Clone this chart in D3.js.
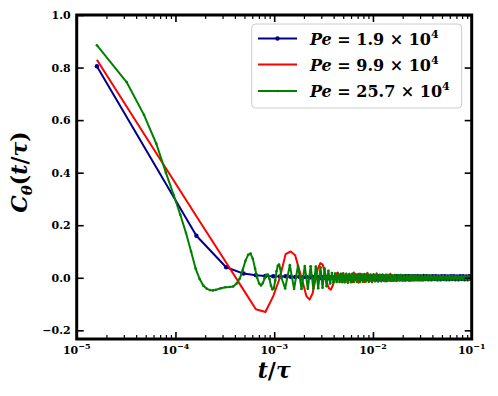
<!DOCTYPE html>
<html>
<head>
<meta charset="utf-8">
<script src="https://cdn.jsdelivr.net/npm/d3@7"></script>
<style>
  body { margin: 0; background: #fff; }
  svg text { font-family: "DejaVu Serif", "Liberation Serif", serif; font-weight: bold; }
</style>
</head>
<body>
<div id="chart"></div>
<script>
// times are in units of 1e-3 (t/tau * 1000)
// coarse sampling shared by the Pe = 1.9e4 and Pe = 9.9e4 runs
var sampleT = [0.016,0.163,0.326,0.489,0.652,0.815,0.978,1.141,1.304,1.467,1.630,
    1.793,1.956,2.119,2.282,2.445,2.608,2.771,2.934,3.097,3.260,
    3.423,3.586,3.749,3.912,4.075,4.238,4.401,4.564,4.727,4.890];
var blueV = [0.805,0.16,0.04,0.016,0.01,0.007,0.006,0.005,0.006,0.004,0.003,
    0.004,0.002,0.003,0.001,0.003,0.0,0.002,-0.001,0.002,0.0,
    0.003,-0.002,0.001,0.002,-0.003,0.002,0.0,-0.002,0.003,-0.001];
var redV = [0.83,0.234,0.058,-0.046,-0.12,-0.13,-0.07,0.0,0.09,0.1,0.086,
    0.03,-0.02,-0.07,-0.083,-0.06,-0.01,0.035,0.056,0.05,0.02,
    -0.02,-0.04,-0.045,-0.03,-0.005,0.015,0.02,0.01,-0.01,-0.018];

// fine sampling of the Pe = 25.7e4 run
var greenT = [0.016,0.032,0.048,0.064,0.080,0.096,0.112,0.128,0.144,0.160,0.176,0.192,0.208,0.224,0.240,0.256,
    0.288,0.320,0.352,0.384,0.416,0.448,0.480,0.512,0.544,0.576,0.608,0.640,0.672,0.704,0.736,0.768,
    0.800,0.832,0.864,0.896,0.928,0.960,0.992,1.024,1.056,1.088,1.120,1.152,1.184,
    1.29,1.44,1.59,1.74,1.89,2.04,2.19,2.34,2.49,2.64,2.79,2.94,3.09,3.24,3.39,3.54,3.69,3.84,3.99,
    4.14,4.29,4.44,4.59,4.74,4.89];
var greenV = [0.885,0.745,0.62,0.51,0.40,0.315,0.24,0.17,0.10,0.035,-0.005,-0.03,-0.042,-0.047,-0.048,-0.046,
    -0.04,-0.036,-0.035,-0.033,-0.022,-0.003,0.03,0.065,0.087,0.092,0.072,0.035,0.0,-0.022,-0.029,-0.02,
    -0.002,0.011,0.012,-0.005,-0.03,-0.044,-0.04,-0.01,0.025,0.046,0.05,0.035,0.0,
    -0.041,0.048,-0.043,0.046,-0.043,0.045,-0.042,0.044,-0.041,0.043,-0.04,0.04,-0.038,0.035,-0.032,0.027,-0.022,0.018,-0.017,
    0.016,-0.016,0.015,-0.016,0.015,-0.016];

// late-time tail, shared times for all three runs
var tailT = [5.00,5.18,5.37,5.56,5.76,5.97,6.18,6.40,6.63,6.87,7.12,7.38,7.64,7.92,8.20,8.50,8.80,9.12,9.45,9.79,
    10.14,10.5,10.9,11.3,11.7,12.1,12.5,13.0,13.5,14.0,14.5,15.0,15.5,16.1,16.7,17.3,17.9,18.5,19.2,19.9,
    20.6,21.3,22.1,22.9,23.7,24.6,25.5,26.4,27.3,28.3,29.3,30.4,31.5,32.6,33.8,35.0,36.3,37.6,38.9,40.3,
    41.8,43.3,44.8,46.4,48.1,49.8,51.6,53.5,55.4,57.4,59.5,61.6,63.8,66.1,68.5,71.0,73.5,76.2,78.9,81.7,
    84.7,87.7,90.9,94.1,97.5,100];
var blueTail = [0.003,-0.004,0.005,-0.002,0.004,-0.005,0.002,0.004,-0.003,0.005,
    -0.004,0.003,-0.005,0.005,-0.003,0.006,-0.005,0.004,-0.006,0.004,
    -0.004,0.005,-0.006,0.005,-0.004,0.006,-0.005,0.004,-0.006,0.005,
    -0.005,0.006,-0.006,0.004,-0.006,0.006,-0.005,0.005,-0.006,0.005,
    -0.006,0.006,-0.005,0.006,-0.007,0.005,-0.006,0.006,-0.005,0.006,
    -0.006,0.005,-0.006,0.007,-0.005,0.006,-0.006,0.005,-0.006,0.006,
    -0.005,0.006,-0.006,0.005,-0.006,0.006,-0.005,0.006,-0.006,0.005,
    -0.006,0.006,-0.005,0.006,-0.006,0.005,-0.006,0.006,-0.005,0.006,
    -0.006,0.005,-0.006,0.006,-0.005,0.005];
var redTail = [0.018,-0.012,0.006,-0.021,0.015,0.002,-0.017,0.02,-0.008,0.011,
    -0.019,0.016,-0.004,0.013,-0.016,0.009,0.019,-0.013,0.004,-0.018,
    0.014,-0.007,0.017,-0.015,0.006,-0.011,0.013,0.002,-0.014,0.012,
    -0.009,0.015,-0.012,0.004,0.011,-0.013,0.009,-0.006,0.012,-0.01,
    0.007,-0.012,0.01,0.001,-0.009,0.011,-0.007,0.008,-0.01,0.005,
    0.009,-0.008,0.004,-0.009,0.008,-0.005,0.007,-0.008,0.006,-0.003,
    0.008,-0.007,0.005,-0.006,0.007,-0.004,0.006,-0.007,0.003,-0.005,
    0.006,-0.004,0.005,-0.006,0.004,-0.003,0.005,-0.005,0.004,-0.004,
    0.005,-0.003,0.004,-0.004,0.003,-0.003];
var greenTail = [0.015,-0.017,0.015,-0.016,0.014,-0.017,0.015,-0.016,0.014,-0.015,
    0.014,-0.016,0.013,-0.015,0.014,-0.014,0.013,-0.015,0.012,-0.014,
    0.012,-0.013,0.012,-0.013,0.011,-0.013,0.011,-0.012,0.011,-0.012,
    0.010,-0.011,0.010,-0.011,0.010,-0.011,0.010,-0.010,0.009,-0.010,
    0.009,-0.010,0.009,-0.010,0.009,-0.009,0.009,-0.009,0.008,-0.009,
    0.008,-0.009,0.008,-0.009,0.008,-0.008,0.008,-0.008,0.008,-0.008,
    0.007,-0.008,0.007,-0.008,0.007,-0.008,0.007,-0.008,0.007,-0.007,
    0.007,-0.007,0.007,-0.007,0.007,-0.007,0.006,-0.007,0.006,-0.007,
    0.006,-0.007,0.006,-0.007,0.006,-0.006];

var seriesNames = ["1.9", "9.9", "25.7"];
var seriesColors = ["#00008b", "#ff0000", "#008000"];
var majorX = [1e-5, 1e-4, 1e-3, 1e-2, 1e-1];
var majorXExp = ["\u22125", "\u22124", "\u22123", "\u22122", "\u22121"];
var yTicks = [-0.2, 0, 0.2, 0.4, 0.6, 0.8, 1.0];

var width = 498, height = 396;
var margin = {top: 15, right: 26.3, bottom: 57, left: 76.7};

var svg = d3.select("#chart").append("svg")
    .attr("width", width)
    .attr("height", height);

var x = d3.scaleLog().domain([1e-5, 1e-1]).range([margin.left, width - margin.right]);
var y = d3.scaleLinear().domain([-0.233, 1.0]).range([height - margin.bottom, margin.top]);

//builds point list from a time array (in 1e-3 units) and a value array
function toPoints(tArr, vArr){
    return tArr.map(function(t, i){ return {t: t * 1e-3, v: vArr[i]}; });
}

var series = [
    {pts: toPoints(sampleT, blueV).concat(toPoints(tailT, blueTail)), r: 2.2},
    {pts: toPoints(sampleT, redV).concat(toPoints(tailT, redTail)), r: 0},
    {pts: toPoints(greenT, greenV).concat(toPoints(tailT, greenTail)), r: 1.3}
];

svg.append("clipPath").attr("id", "clip").append("rect")
    .attr("x", x.range()[0]).attr("y", y.range()[1])
    .attr("width", x.range()[1] - x.range()[0])
    .attr("height", y.range()[0] - y.range()[1]);

var line = d3.line().x(function(d){ return x(d.t); }).y(function(d){ return y(d.v); });

var plot = svg.append("g").attr("clip-path", "url(#clip)");
series.forEach(function(s, i){
    plot.append("path").datum(s.pts)
        .attr("d", line)
        .attr("fill", "none")
        .attr("stroke", seriesColors[i])
        .attr("stroke-width", 2)
        .attr("stroke-linejoin", "round");
    if (s.r > 0){
        plot.selectAll(null).data(s.pts).enter().append("circle")
            .attr("cx", function(d){ return x(d.t); })
            .attr("cy", function(d){ return y(d.v); })
            .attr("r", s.r)
            .attr("fill", seriesColors[i]);
    }
});

//ticks on all four sides, pointing inward
var minorX = x.ticks().filter(function(v){ return majorX.indexOf(v) < 0; });
var y0 = y.range()[0], y1 = y.range()[1], x0 = x.range()[0], x1 = x.range()[1];

function styleAxis(g, w){
    g.select(".domain").remove();
    g.selectAll("line").attr("stroke", "#000").attr("stroke-width", w);
    g.selectAll("text").remove();
}
svg.append("g").attr("transform", "translate(0," + y0 + ")")
    .call(d3.axisBottom(x).tickValues(majorX).tickSize(-7)).call(styleAxis, 1.6);
svg.append("g").attr("transform", "translate(0," + y0 + ")")
    .call(d3.axisBottom(x).tickValues(minorX).tickSize(-4)).call(styleAxis, 1.2);
svg.append("g").attr("transform", "translate(0," + y1 + ")")
    .call(d3.axisTop(x).tickValues(majorX).tickSize(-7)).call(styleAxis, 1.6);
svg.append("g").attr("transform", "translate(0," + y1 + ")")
    .call(d3.axisTop(x).tickValues(minorX).tickSize(-4)).call(styleAxis, 1.2);
svg.append("g").attr("transform", "translate(" + x0 + ",0)")
    .call(d3.axisLeft(y).tickValues(yTicks).tickSize(-7)).call(styleAxis, 1.6);
svg.append("g").attr("transform", "translate(" + x1 + ",0)")
    .call(d3.axisRight(y).tickValues(yTicks).tickSize(-7)).call(styleAxis, 1.6);

svg.append("rect")
    .attr("x", x0).attr("y", y1)
    .attr("width", x1 - x0).attr("height", y0 - y1)
    .attr("fill", "none").attr("stroke", "#000").attr("stroke-width", 3);

//tick labels
svg.selectAll(".ylab").data(yTicks).enter().append("text")
    .attr("class", "ylab")
    .attr("x", x0 - 6)
    .attr("y", function(d){ return y(d) + 4; })
    .attr("text-anchor", "end")
    .attr("font-size", 11)
    .text(function(d){ return d3.format(".1f")(d).replace("-", "\u2212"); });

majorX.forEach(function(v, i){
    var t = svg.append("text")
        .attr("x", x(v)).attr("y", y0 + 15)
        .attr("text-anchor", "middle")
        .attr("font-size", 11);
    t.append("tspan").text("10");
    t.append("tspan").attr("dy", -5).attr("font-size", 8).text(majorXExp[i]);
});

//axis titles
var xt = svg.append("text")
    .attr("x", (x0 + x1) / 2).attr("y", 378)
    .attr("text-anchor", "middle")
    .attr("font-size", 22)
    .attr("font-style", "italic");
xt.append("tspan").text("t");
xt.append("tspan").attr("font-style", "normal").text("/");
xt.append("tspan").text("\u03c4");

var yt = svg.append("text")
    .attr("transform", "translate(27,172) rotate(-90)")
    .attr("text-anchor", "middle")
    .attr("font-size", 22);
yt.append("tspan").attr("font-style", "italic").text("C");
yt.append("tspan").attr("font-style", "italic").attr("font-size", 15).attr("dy", 5).text("\u03b8");
yt.append("tspan").attr("dy", -5).text("(");
yt.append("tspan").attr("font-style", "italic").text("t");
yt.append("tspan").text("/");
yt.append("tspan").attr("font-style", "italic").text("\u03c4");
yt.append("tspan").text(")");

//legend
var legend = svg.append("g");
legend.append("rect")
    .attr("x", 251.7).attr("y", 24)
    .attr("width", 210).attr("height", 84)
    .attr("rx", 4)
    .attr("fill", "#fff").attr("fill-opacity", 0.8)
    .attr("stroke", "#cccccc").attr("stroke-width", 1);

var rowY = [38.5, 64.5, 91];
seriesNames.forEach(function(name, i){
    var g = legend.append("g").attr("transform", "translate(0," + rowY[i] + ")");
    g.append("line").attr("x1", 258).attr("x2", 297)
        .attr("stroke", seriesColors[i]).attr("stroke-width", 2);
    if (series[i].r > 0){
        g.append("circle").attr("cx", 277.5).attr("cy", 0).attr("r", series[i].r)
            .attr("fill", seriesColors[i]);
    }
    var t = g.append("text").attr("x", 310).attr("y", 6).attr("font-size", 16);
    t.append("tspan").attr("font-style", "italic").text("Pe");
    t.append("tspan").text(" = " + name + " \u00d7 10");
    t.append("tspan").attr("dy", -7).attr("font-size", 11).text("4");
});
</script>
</body>
</html>
